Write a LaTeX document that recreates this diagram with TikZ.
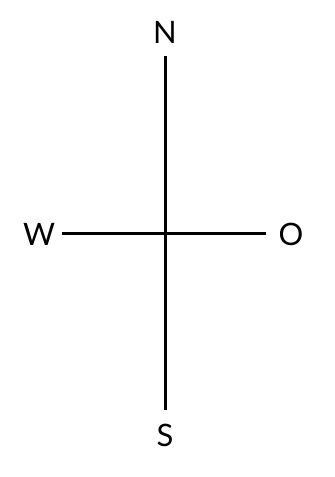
\documentclass[tikz,border=0pt]{standalone}
\usepackage{fontspec}
\setmainfont{Lato}
\usepackage{tikz}
\usetikzlibrary{positioning}

\begin{document}
\begin{tikzpicture}[x=1bp, y=-1bp,
    dirlabel/.style={font=\fontsize{31}{31}\selectfont, inner sep=0pt},
    axis/.style={line width=3bp}]
  \useasboundingbox (0,0) rectangle (334,477);
  % compass points
  \node[dirlabel] (north) at (165,32) {N};
  \node[dirlabel] (west)  at (39,234) {W};
  \node[dirlabel] (east)  at (291,234) {O};
  \node[dirlabel] (south) at (165,435) {S};
  % ends of the cross
  \coordinate (top)    at (165,56);
  \coordinate (bottom) at (165,410);
  \coordinate (left)   at (62,233);
  \coordinate (right)  at (266,233);
  \draw[axis] (top) -- (bottom);
  \draw[axis] (left) -- (right);
\end{tikzpicture}
\end{document}
